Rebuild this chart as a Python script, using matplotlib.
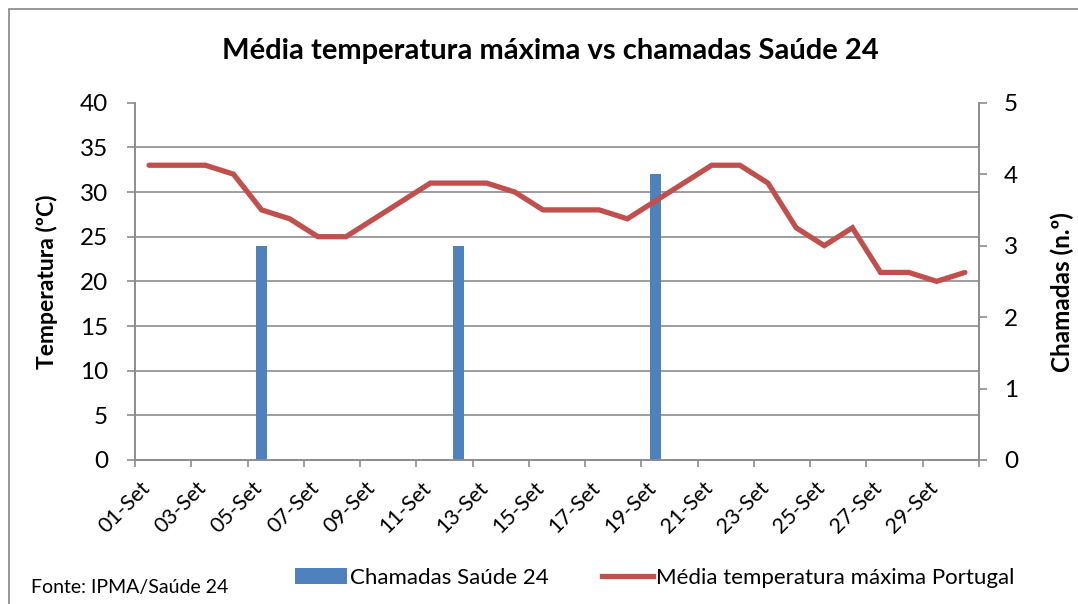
import matplotlib.pyplot as plt
import matplotlib.transforms as mtransforms
from matplotlib.patches import Patch, Rectangle
from matplotlib.lines import Line2D
import numpy as np

plt.rcParams['font.family'] = ['Lato', 'DejaVu Sans']

# data
days = [f"{d:02d}-Set" for d in range(1, 31)]
temp_max = [33, 33, 33, 32, 28, 27, 25, 25, 27, 29, 31, 31, 31, 30, 28,
            28, 28, 27, 29, 31, 33, 33, 31, 26, 24, 26, 21, 21, 20, 21]
chamadas = [0, 0, 0, 0, 3, 0, 0, 0, 0, 0, 0, 3, 0, 0, 0,
            0, 0, 0, 4, 0, 0, 0, 0, 0, 0, 0, 0, 0, 0, 0]

BLUE = '#4F81BD'
RED = '#C0504D'
GRID = '#8C8C8C'

W, H = 1078, 604
fig = plt.figure(figsize=(W / 100, H / 100), dpi=100)
rect = [135 / W, 1 - 460 / H, (979 - 135) / W, (460 - 102.7) / H]
ax = fig.add_axes(rect)
ax2 = ax.twinx()

x = np.arange(len(days))

# bars on the right axis (drawn underneath), line on the left axis (on top)
ax.set_zorder(2)
ax2.set_zorder(1)
ax.patch.set_visible(False)

ax2.bar(x, chamadas, width=0.38, color=BLUE, zorder=3)
ax2.set_ylim(0, 5)
ax2.set_yticks(range(0, 6))
ax2.set_yticks(np.arange(0, 5.001, 0.625), minor=True)
ax2.grid(which='minor', axis='y', color=GRID, linewidth=1.2, zorder=0)
ax2.set_axisbelow(True)
ax2.tick_params(axis='y', which='major', direction='out', length=6, width=1.2,
                color=GRID, pad=12, labelsize=17.5)
ax2.tick_params(axis='y', which='minor', length=0)

ax.plot(x, temp_max, color=RED, linewidth=3.8, solid_capstyle='round',
        solid_joinstyle='miter')
ax.set_xlim(-0.5, len(days) - 0.5)
ax.set_ylim(0, 40)
ax.set_yticks(range(0, 41, 5))
ax.tick_params(axis='y', direction='out', length=6, width=1.2, color=GRID,
               pad=13.5, labelsize=17.5)

# major ticks on category boundaries, labels on every other category
ax.set_xticks(np.arange(-0.5, len(days), 2))
ax.set_xticklabels([])
ax.tick_params(axis='x', which='major', direction='out', length=5, width=1.2,
               color=GRID)
ax.set_xticks(x[::2], minor=True)
ax.set_xticklabels(days[::2], minor=True, rotation=45, ha='right', va='top',
                   fontsize=15.5)
ax.tick_params(axis='x', which='minor', length=0, pad=13)
offset = mtransforms.ScaledTranslation(0.05, 0, fig.dpi_scale_trans)
for lbl in ax.get_xticklabels(minor=True):
    lbl.set_transform(lbl.get_transform() + offset)

for a in (ax, ax2):
    a.spines['top'].set_visible(False)
    for s in ('left', 'right', 'bottom'):
        a.spines[s].set_color(GRID)
        a.spines[s].set_linewidth(1.2)

fig.text(550 / W, 1 - 51 / H, 'Média temperatura máxima vs chamadas Saúde 24',
         ha='center', va='center', fontsize=21, fontweight='bold')
fig.text(47 / W, 1 - 282 / H, 'Temperatura (ºC)', rotation=90, ha='center',
         va='center', fontsize=16.5, fontweight='bold')
fig.text(1062 / W, 1 - 292 / H, 'Chamadas (n.º)', rotation=90, ha='center',
         va='center', fontsize=17.5, fontweight='bold')
fig.text(31 / W, 1 - 587 / H, 'Fonte: IPMA/Saúde 24', ha='left', va='center',
         fontsize=14)

handles = [Patch(facecolor=BLUE, edgecolor='none'),
           Line2D([], [], color=RED, linewidth=3.8)]
fig.legend(handles, ['Chamadas Saúde 24', 'Média temperatura máxima Portugal'],
           loc='center', bbox_to_anchor=(655 / W, 1 - 578 / H), ncol=2,
           frameon=False, fontsize=16, handlelength=2.3, handleheight=0.7,
           handletextpad=0.15, columnspacing=2.4)

# chart-area border (only top and left are inside the picture)
fig.patches.append(Rectangle((9 / W, -0.1), 2, 1 - 9 / H + 0.1,
                             transform=fig.transFigure, fill=False,
                             edgecolor='#868686', linewidth=1.2))

fig.savefig('out.png', dpi=100)
